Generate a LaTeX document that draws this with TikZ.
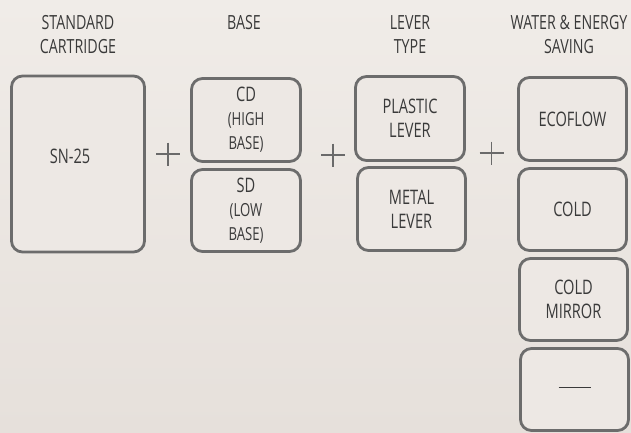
\documentclass[tikz,border=0pt]{standalone}
\usepackage{fontspec}
\setmainfont{Open Sans}[FakeStretch=0.73]
\begin{document}
\begin{tikzpicture}[x=1pt,y=-1pt,
  box/.style={draw=boxgray, line width=2.8pt, rounded corners=11pt, fill=boxfill,
    align=center, inner sep=0pt, text=txtgray, font=\fontsize{20}{24}\selectfont},
  hdr/.style={align=center, inner sep=0pt, text=txtgray, font=\fontsize{19.5}{24}\selectfont},
  small/.style={font=\fontsize{18}{24}\selectfont},
  plusline/.style={draw=plusgray, line width=1.9pt}]
\definecolor{boxgray}{HTML}{6C6C6C}
\definecolor{boxfill}{HTML}{EDE8E4}
\definecolor{txtgray}{HTML}{3A3A3A}
\definecolor{plusgray}{HTML}{6A6A6A}
\definecolor{bgA}{HTML}{F0ECE8}
\definecolor{bgB}{HTML}{E6E0DB}
\useasboundingbox (0,0) rectangle (631,433);
\shade[top color=bgA, bottom color=bgB] (0,0) rectangle (631,433);
% headers
\node[hdr] (h1) at (78,34.5) {STANDARD\\CARTRIDGE};
\node[hdr] (h2) at (244,22.5) {BASE};
\node[hdr] (h3) at (410,34.5) {LEVER\\TYPE};
\node[hdr] (h4) at (569,34.5) {WATER \& ENERGY\\SAVING};
% boxes
\node[box, minimum width=133pt, minimum height=176pt] (sn) at (78,164) {};
\node[hdr, font=\fontsize{20}{24}\selectfont] (sntxt) at (70,156) {SN-25};
\node[box, minimum width=109pt, minimum height=83pt] (cd) at (246,120) {CD\\{\fontsize{18}{24}\selectfont(HIGH}\\{\fontsize{18}{24}\selectfont BASE)}};
\node[box, minimum width=109pt, minimum height=82pt] (sd) at (246,210.5) {SD\\{\fontsize{18}{24}\selectfont(LOW}\\{\fontsize{18}{24}\selectfont BASE)}};
\node[box, minimum width=109pt, minimum height=84pt] (pl) at (410,118.5) {PLASTIC\\LEVER};
\node[box, minimum width=108pt, minimum height=83pt] (ml) at (411.5,209) {METAL\\LEVER};
\node[box, minimum width=108pt, minimum height=83pt] (eco) at (572.5,119) {ECOFLOW};
\node[box, minimum width=108pt, minimum height=82pt] (cold) at (572.5,209.5) {COLD};
\node[box, minimum width=108pt, minimum height=82pt] (cm) at (573.5,299.5) {COLD\\MIRROR};
\node[box, minimum width=108pt, minimum height=82pt] (none) at (574.5,389.5) {};
\draw[draw=txtgray, line width=1pt] (none.center) ++(-16,-2) -- ++(32,0);
% plus signs
\foreach \px/\py in {168/154, 333/155, 491.5/153}{
  \draw[plusline] (\px-12,\py) -- (\px+12,\py);
  \draw[plusline] (\px,\py-11.5) -- (\px,\py+11.5);
}
\end{tikzpicture}
\end{document}
